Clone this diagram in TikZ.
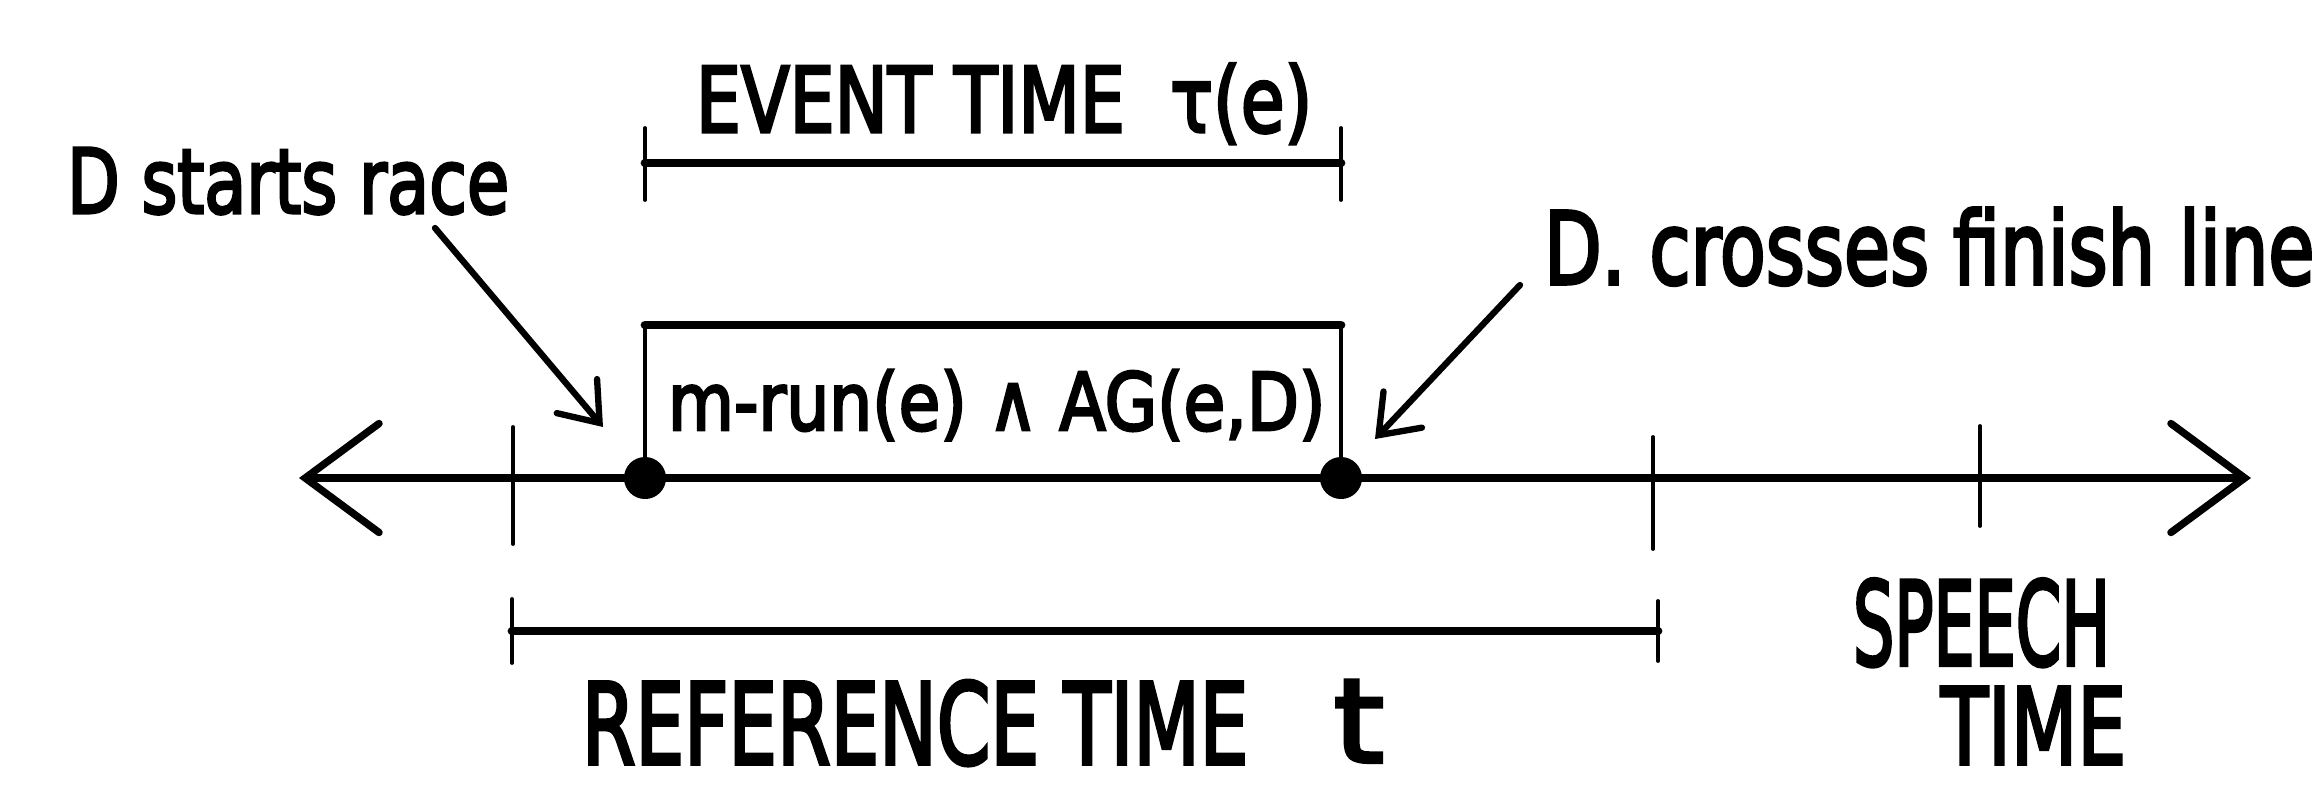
\documentclass[tikz,border=0pt]{standalone}
\usepackage{fontspec}
\setmainfont{DejaVu Sans}
\newfontfamily\hand{DejaVu Sans}[FakeBold=3.5]
\usetikzlibrary{arrows.meta}
\newcommand{\fitw}[2]{\resizebox{#1}{\height}{#2}}
\newcommand{\fsz}[1]{\fontsize{#1}{#1}\hand}
\begin{document}
\begin{tikzpicture}[x=0.01cm,y=-0.01cm,
  lbl/.style={inner sep=0pt, outer sep=0pt, anchor=base west},
  heavy/.style={line width=2.1pt, line cap=round},
  thinl/.style={line width=1.1pt, line cap=round},
  barl/.style={line width=2.5pt, line cap=round},
  pointer/.style={line width=1.8pt, line cap=round, -{Straight Barb[length=10pt,width=15pt,line cap=round]}},
  dot/.style={circle, fill=black, inner sep=0pt, minimum size=0.42cm}]
\useasboundingbox (0,0) rectangle (2320,787);

% main time line
\coordinate (L) at (299,478);
\coordinate (R) at (2251,478);
\draw[heavy, {Straight Barb[length=21pt,width=31pt,line cap=round]}-{Straight Barb[length=21pt,width=31pt,line cap=round]}] (L) -- (R);

% ticks
\coordinate (t1a) at (513,427);  \coordinate (t1b) at (513,544);
\coordinate (t2a) at (1653,437); \coordinate (t2b) at (1653,549);
\coordinate (t3a) at (1980,426); \coordinate (t3b) at (1980,526);
\draw[thinl] (t1a) -- (t1b);
\draw[thinl] (t2a) -- (t2b);
\draw[thinl] (t3a) -- (t3b);

% event box with dots
\node[dot] (d1) at (645,478) {};
\node[dot] (d2) at (1341,478) {};
\coordinate (b1) at (645,325);
\coordinate (b2) at (1341,325);
\draw[thinl] (d1.center) -- (b1);
\draw[barl] (b1) -- (b2);
\draw[thinl] (b2) -- (d2.center);
\node[lbl, font=\fsz{22.6pt}] (formula) at (668,430) {\fitw{6.57cm}{m-run(e) ∧ AG(e,D)}};

% event time bracket
\coordinate (e1) at (645,163);   \coordinate (e2) at (1341,163);
\coordinate (e1a) at (645,128);  \coordinate (e1b) at (645,200);
\coordinate (e2a) at (1341,128); \coordinate (e2b) at (1341,200);
\draw[barl] (e1) -- (e2);
\draw[thinl] (e1a) -- (e1b);
\draw[thinl] (e2a) -- (e2b);
\node[lbl, font=\fsz{25.7pt}] (evt) at (696,132) {\fitw{6.16cm}{EVENT TIME \ τ(e)}};

% reference time bracket
\coordinate (r1) at (512,631);   \coordinate (r2) at (1658,631);
\coordinate (r1a) at (512,599);  \coordinate (r1b) at (512,663);
\coordinate (r2a) at (1658,601); \coordinate (r2b) at (1658,661);
\draw[barl] (r1) -- (r2);
\draw[thinl] (r1a) -- (r1b);
\draw[thinl] (r2a) -- (r2b);
\node[lbl, font=\fsz{32pt}] (reft) at (582,764) {\fitw{6.66cm}{REFERENCE TIME}};
\node[lbl, font=\fsz{33pt}] (tvar) at (1334,762) {\fitw{0.5cm}{t}};

% speech time
\node[lbl, font=\fsz{33pt}] (sp1) at (1853,665) {\fitw{2.57cm}{SPEECH}};
\node[lbl, font=\fsz{30pt}] (sp2) at (1941,764) {\fitw{1.85cm}{TIME}};

% annotations
\node[lbl, font=\fsz{25.4pt}] (start) at (67,213) {\fitw{4.42cm}{D starts race}};
\node[lbl, font=\fsz{28.5pt}] (finish) at (1544,284) {\fitw{7.70cm}{D. crosses finish line}};
\coordinate (s0) at (435,228);  \coordinate (s1) at (603,427);
\coordinate (f0) at (1520,285); \coordinate (f1) at (1375,439);
\draw[pointer] (s0) -- (s1);
\draw[pointer] (f0) -- (f1);
\end{tikzpicture}
\end{document}
